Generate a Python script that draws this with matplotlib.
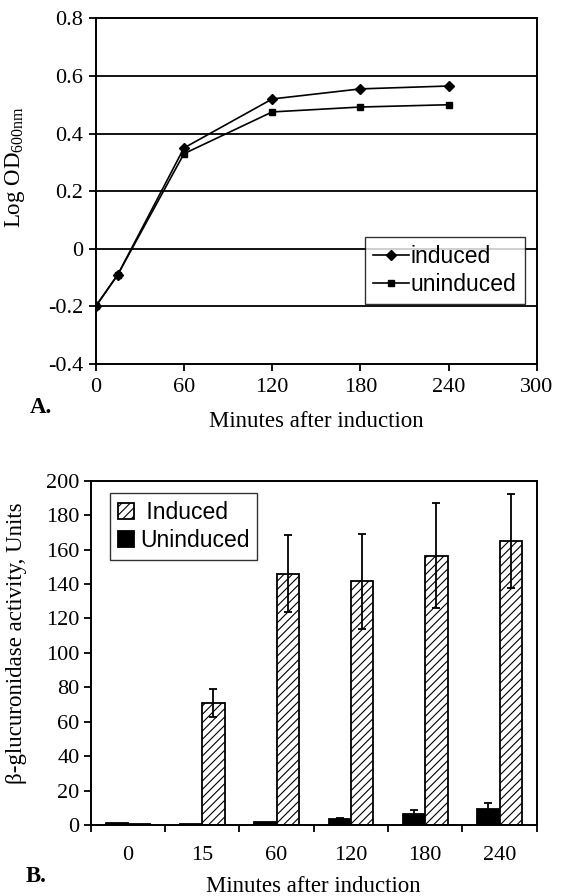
import matplotlib
matplotlib.use("Agg")
import matplotlib.pyplot as plt
import numpy as np

# ---- Panel A data ----
minutes = [0, 15, 60, 120, 180, 240]
od_induced = [-0.20, -0.09, 0.35, 0.52, 0.555, 0.565]
od_uninduced = [-0.20, -0.09, 0.33, 0.475, 0.492, 0.50]
a_xticks = [0, 60, 120, 180, 240, 300]
a_yticks = [-0.4, -0.2, 0.0, 0.2, 0.4, 0.6, 0.8]
a_yticklabels = ["-0.4", "-0.2", "0", "0.2", "0.4", "0.6", "0.8"]

# ---- Panel B data ----
b_categories = ["0", "15", "60", "120", "180", "240"]
gus_induced = [0.8, 71, 146, 141.5, 156.5, 165]
gus_induced_err = [0, 8, 22.5, 27.5, 30.5, 27.5]
gus_uninduced = [1.2, 0.6, 1.5, 3.5, 6.2, 9.5]
gus_uninduced_err = [0, 0, 0, 0.5, 2.5, 3.0]
b_yticks = [0, 20, 40, 60, 80, 100, 120, 140, 160, 180, 200]

SERIF = "Liberation Serif"
SANS = "Liberation Sans"
FS = 16.5
TFS = 16

plt.rcParams["hatch.linewidth"] = 0.8

fig = plt.figure(figsize=(5.63, 8.96), dpi=100)
W, H = 563.0, 896.0

# ---------------- Panel A ----------------
axA = fig.add_axes([95.7 / W, 1 - 364 / H, (537 - 95.7) / W, (364 - 18.3) / H])
for y in a_yticks[1:-1]:
    axA.axhline(y, color="black", lw=1.3, zorder=1)
axA.plot(minutes, od_induced, color="black", lw=1.2, marker="D", ms=5,
         label="induced", zorder=3)
axA.plot(minutes, od_uninduced, color="black", lw=1.2, marker="s", ms=5,
         label="uninduced", zorder=3)
axA.set_xlim(0, 300)
axA.set_ylim(-0.4, 0.8)
axA.set_xticks(a_xticks)
axA.set_xticklabels([str(t) for t in a_xticks])
axA.set_yticks(a_yticks)
axA.set_yticklabels(a_yticklabels)
for sp in axA.spines.values():
    sp.set_linewidth(1.4)
axA.tick_params(direction="out", length=5, width=1.3, labelsize=TFS, pad=4)
axA.tick_params(axis="x", pad=5)
for lab in axA.get_xticklabels() + axA.get_yticklabels():
    lab.set_fontfamily(SERIF)
axA.set_ylabel(r"Log OD$_{\mathregular{600nm}}$", fontsize=FS, family=SERIF)
axA.yaxis.set_label_coords(-0.155, 0.57)
axA.set_xlabel("Minutes after induction", fontsize=FS, family=SERIF, va="top")
axA.xaxis.set_label_coords(0.5, -0.135)
legA = axA.legend(loc="upper left", bbox_to_anchor=((365 - 95.7) / 441.3, (364 - 237) / 345.7),
                  prop={"family": SANS, "size": FS}, frameon=True, fancybox=False,
                  handlelength=1.55, handletextpad=0.1, labelspacing=0.2,
                  borderpad=0.35, borderaxespad=0)
legA.get_frame().set_edgecolor("black")
legA.get_frame().set_linewidth(1.0)
fig.text(30 / W, 1 - 413 / H, "A.", fontsize=FS, family=SERIF, fontweight="bold",
         va="baseline", ha="left")

# ---------------- Panel B ----------------
axB = fig.add_axes([90.7 / W, 1 - 825 / H, (536.7 - 90.7) / W, (825 - 480.7) / H])
n = len(b_categories)
centers = np.arange(n) + 0.5
bw = 0.3
axB.bar(centers - bw / 2, gus_uninduced, width=bw, color="black", edgecolor="black",
        lw=1.3, label="Uninduced", zorder=2)
axB.bar(centers + bw / 2, gus_induced, width=bw, color="white", edgecolor="black",
        lw=1.3, hatch="////", label="Induced", zorder=2)
ie = np.array(gus_induced_err)
ue = np.array(gus_uninduced_err)
mi = ie > 0
axB.errorbar((centers + bw / 2)[mi], np.array(gus_induced)[mi], yerr=ie[mi], fmt="none",
             ecolor="black", elinewidth=1.3, capsize=3, capthick=1.3, zorder=3)
mu = ue > 0
axB.errorbar((centers - bw / 2)[mu], np.array(gus_uninduced)[mu], yerr=ue[mu], fmt="none",
             ecolor="black", elinewidth=1.3, capsize=3, capthick=1.3, zorder=3)
axB.set_xlim(0, n)
axB.set_ylim(0, 200)
axB.set_yticks(b_yticks)
axB.set_yticklabels([str(t) for t in b_yticks])
axB.set_xticks(np.arange(n + 1))
axB.set_xticklabels([""] * (n + 1))
axB.set_xticks(centers, minor=True)
axB.set_xticklabels(b_categories, minor=True)
for sp in axB.spines.values():
    sp.set_linewidth(1.4)
axB.tick_params(axis="both", which="major", direction="out", length=5, width=1.3,
                labelsize=TFS, pad=3)
axB.tick_params(axis="x", which="minor", length=0, labelsize=TFS, pad=15)
for lab in axB.get_xticklabels(minor=True) + axB.get_yticklabels():
    lab.set_fontfamily(SERIF)
axB.set_ylabel("β-glucuronidase activity, Units", fontsize=FS, family=SERIF)
axB.yaxis.set_label_coords(-0.143, 0.529)
axB.set_xlabel("Minutes after induction", fontsize=FS, family=SERIF, va="top")
axB.xaxis.set_label_coords(0.5, -0.148)
handles, labels = axB.get_legend_handles_labels()
legB = axB.legend([handles[1], handles[0]], [" Induced", "Uninduced"], loc="upper left",
                  bbox_to_anchor=((110 - 90.7) / 446, (825 - 493) / 344.3),
                  prop={"family": SANS, "size": FS}, frameon=True, fancybox=False,
                  handlelength=0.7, handleheight=0.7, handletextpad=0.25,
                  labelspacing=0.2, borderpad=0.35, borderaxespad=0)
legB.get_frame().set_edgecolor("black")
legB.get_frame().set_linewidth(1.0)
fig.text(26 / W, 1 - 882 / H, "B.", fontsize=FS, family=SERIF, fontweight="bold",
         va="baseline", ha="left")

fig.savefig("out.png", dpi=100)
